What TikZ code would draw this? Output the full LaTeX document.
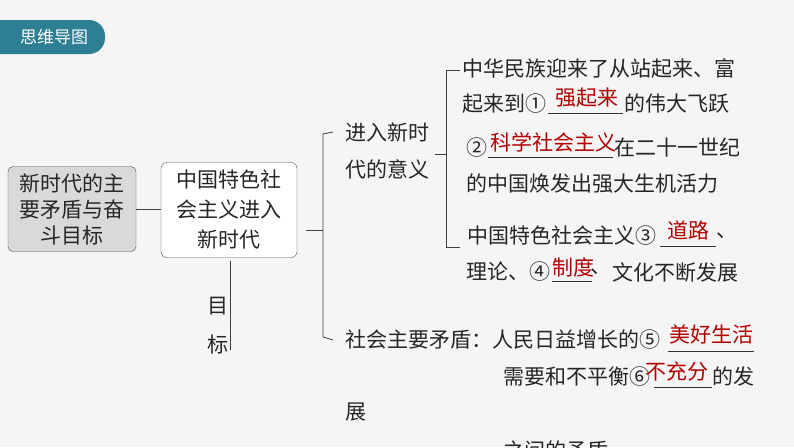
\documentclass[tikz,border=0pt]{standalone}
\usepackage{fontspec}
\setmainfont{Noto Sans CJK SC}
\begin{document}
\begin{tikzpicture}[x=1pt,y=-1pt,
  txt/.style={anchor=west,inner sep=0pt,font=\fontsize{21}{26}\selectfont,text=black!85},
  ans/.style={inner sep=0pt,font=\fontsize{21}{26}\selectfont,text=red!70!black},
  ln/.style={draw=black!75,line width=0.8pt},
  ul/.style={draw=black!80,line width=0.8pt}]
\useasboundingbox[fill=white!96!black] (0,0) rectangle (794,447);
% tab
\fill[fill={rgb,255:red,46;green,127;blue,148},rounded corners=16pt] (-30,20) rectangle (105,54);
\node[inner sep=0pt,text=white,font=\fontsize{17}{20}\selectfont] (tab) at (54,37) {思维导图};
% boxes
\node[draw=black!70,fill=black!15,rounded corners=5pt,minimum width=128,minimum height=85,align=center,font=\fontsize{21}{26}\selectfont,text=black!85,inner sep=0pt] (b1) at (72,209) {新时代的主\\要矛盾与奋\\斗目标};
\node[draw=black!70,fill=white,rounded corners=6pt,minimum width=136,minimum height=95,align=center,font=\fontsize{21}{30}\selectfont,text=black!85,inner sep=0pt] (b2) at (229,210) {中国特色社\\会主义进入\\新时代};
\draw[ln] (b1.east) -- (b2.west |- b1.east);
% goal
\coordinate (g1) at (230,350);
\draw[ln] (b2.south -| g1) ++(0,3) -- (g1);
\node[txt] (mu) at (207,306) {目};
\node[txt] (biao) at (207,345) {标};
% trunk
\coordinate (t0) at (306,230);
\coordinate (tj) at (323,230);
\coordinate (ta) at (323,134);
\coordinate (tb) at (323,337);
\node[txt] (s1a) at (345,132) {进入新时};
\node[txt] (s1b) at (345,169) {代的意义};
\node[txt] (s2) at (345,340) {社会主要矛盾：人民日益增长的⑤};
\draw[ln] (t0) -- (tj);
\draw[ln] (s1a.west) ++(-12,0) coordinate (ta2) -- (ta) -- (tb) -- (s2.west -| ta2);
% second level
\coordinate (k0) at (435,154);
\coordinate (k1) at (446,154);
\coordinate (ka) at (446,70);
\coordinate (kb) at (446,247);
\draw[ln] (k0) -- (k1);
\draw[ln] (460,70) -- (ka) -- (kb) -- (460,247);
% items
\node[txt] (l1) at (462,68) {中华民族迎来了从站起来、富};
\node[txt] (l2) at (462,104) {起来到①};
\coordinate (u1a) at (548,113); \coordinate (u1b) at (623,113);
\draw[ul] (u1a) -- (u1b);
\node[ans] (a1) at (587,98) {强起来};
\node[txt] (l2b) at (624,104) {的伟大飞跃};
\node[txt] (l3) at (466,148) {②};
\coordinate (u2a) at (488,157); \coordinate (u2b) at (613,157);
\draw[ul] (u2a) -- (u2b);
\node[ans,anchor=west] (a2) at (490,142) {科学社会主义};
\node[txt] (l3b) at (614,148) {在二十一世纪};
\node[txt] (l4) at (466,184) {的中国焕发出强大生机活力};
\node[txt] (l5) at (467,236) {中国特色社会主义③};
\coordinate (u3a) at (660,246); \coordinate (u3b) at (716,246);
\draw[ul] (u3a) -- (u3b);
\node[ans] (a3) at (688,230) {道路};
\node[txt] (l5b) at (716,236) {、};
\node[txt] (l6) at (466,272) {理论、④};
\coordinate (u4a) at (552,281); \coordinate (u4b) at (592,281);
\draw[ul] (u4a) -- (u4b);
\node[ans] (a4) at (573,267) {制度};
\node[txt] (l6b) at (590,272) {、};
\node[txt] (l6c) at (612,272) {文化不断发展};
% contradiction
\coordinate (u5a) at (668,351); \coordinate (u5b) at (754,351);
\draw[ul] (u5a) -- (u5b);
\node[ans] (a5) at (711,334) {美好生活};
\node[txt] (l7) at (503,377) {需要和不平衡⑥};
\coordinate (u6a) at (654,387); \coordinate (u6b) at (712,387);
\draw[ul] (u6a) -- (u6b);
\node[ans] (a6) at (677,372) {不充分};
\node[txt] (l7b) at (712,377) {的发};
\node[txt] (l8) at (345,412) {展};
\node[txt] (l9) at (503,450) {之间的矛盾};
\end{tikzpicture}
\end{document}
